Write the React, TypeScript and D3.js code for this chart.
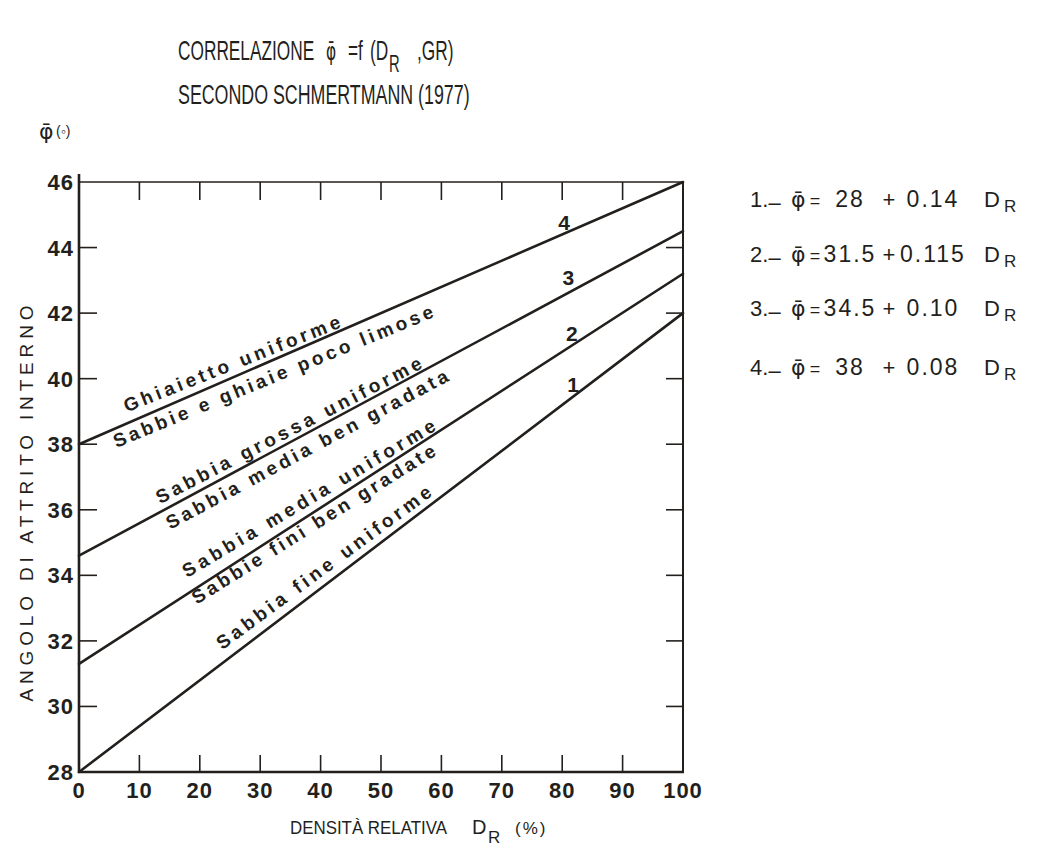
import React from "react";
import * as d3 from "d3";

// ---- data ----
const drTicks = [0, 10, 20, 30, 40, 50, 60, 70, 80, 90, 100];
const phiTicks = [28, 30, 32, 34, 36, 38, 40, 42, 44, 46];
const lineIds = ["1", "2", "3", "4"];
const phiAtDr0 = [28, 31.3, 34.6, 38];
const phiAtDr100 = [42, 43.2, 44.5, 46];
const eqIntercepts = ["28", "31.5", "34.5", "38"];
const eqSlopes = ["0.14", "0.115", "0.10", "0.08"];
const zoneLabels = [
  "Ghiaietto uniforme",
  "Sabbie e ghiaie poco limose",
  "Sabbia grossa uniforme",
  "Sabbia media ben gradata",
  "Sabbia media uniforme",
  "Sabbie fini ben gradate",
  "Sabbia fine uniforme",
];
const zoneLabelLine = [3, 3, 2, 2, 1, 1, 0];

const W = 1041;
const H = 850;
const INK = "#231f1c";
const FONT = "'Liberation Sans', Arial, Helvetica, sans-serif";
const PHI_FONT = "'DejaVu Sans', sans-serif";
const PHI_BAR = "φ\u0304";

export default function App() {
  const x = d3.scaleLinear().domain([0, 100]).range([79, 683]);
  const y = d3.scaleLinear().domain([28, 46]).range([772, 182]);
  const lineVal = (i: number, d: number) =>
    phiAtDr0[i] + ((phiAtDr100[i] - phiAtDr0[i]) * d) / 100;
  const lineGen = d3
    .line<[number, number]>()
    .x((p) => x(p[0]))
    .y((p) => y(p[1]));

  // label placement along lines: start/end DR and vertical pixel offsets
  const placement = [
    { d0: 7.9, d1: 43.5, o0: -11, o1: -3 },
    { d0: 6.2, d1: 58.9, o0: 20, o1: 27 },
    { d0: 13.4, d1: 57, o0: -8, o1: -3 },
    { d0: 15.1, d1: 61.4, o0: 23, o1: 24 },
    { d0: 17.9, d1: 59.3, o0: -16, o1: -3 },
    { d0: 19.5, d1: 59.3, o0: 17, o1: 22 },
    { d0: 23.7, d1: 58.6, o0: -13, o1: -8 },
  ];
  const numPlace = [
    { d: 81.8, o: -5 },
    { d: 81.6, o: -5 },
    { d: 81.0, o: -8 },
    { d: 80.3, o: -4 },
  ];

  const x0 = x(0);
  const x1 = x(100);
  const yTop = y(46);
  const yBot = y(28);

  const eqBase = [207, 262, 316, 375];
  const SX = 0.64;
  const u = (px: number) => (px - 178) / SX; // real x -> unscaled title coords

  return (
    <svg
      width={W}
      height={H}
      viewBox={`0 0 ${W} ${H}`}
      style={{ position: "absolute", left: 0, top: 0, display: "block", background: "#fff" }}
    >
      <rect x={0} y={0} width={W} height={H} fill="#fff" />

      {/* title */}
      <g fill={INK} fontFamily={FONT} fontSize={27}>
        <text transform={`translate(178,60) scale(${SX},1)`}>
          <tspan x={0}>CORRELAZIONE</tspan>
          <tspan x={u(326)} fontFamily={PHI_FONT} fontSize={24}>
            {PHI_BAR}
          </tspan>
          <tspan x={u(348)}>=f</tspan>
          <tspan x={u(370)}>(D</tspan>
          <tspan x={u(389)} dy={12} fontSize={23}>
            R
          </tspan>
          <tspan x={u(417)} dy={-12}>
            ,GR)
          </tspan>
        </text>
        <text transform={`translate(178,104) scale(0.66,1)`}>SECONDO SCHMERTMANN (1977)</text>
      </g>

      {/* y-axis unit label */}
      <text x={39} y={139} fill={INK} fontFamily={PHI_FONT} fontSize={22}>
        {PHI_BAR}
        <tspan x={56} dy={-3} fontFamily={FONT} fontSize={14}>
          (◦)
        </tspan>
      </text>

      {/* frame */}
      <g stroke={INK} fill="none">
        <line x1={x0} x2={x1} y1={yTop} y2={yTop} strokeWidth={1.6} />
        <line x1={x1} x2={x1} y1={yTop} y2={yBot + 1} strokeWidth={2} />
        <line x1={x0} x2={x0} y1={yTop - 8} y2={yBot + 1} strokeWidth={2.6} />
        <line x1={x0 - 1} x2={x1 + 1} y1={yBot} y2={yBot} strokeWidth={2.6} />
      </g>

      {/* ticks */}
      <g stroke={INK} strokeWidth={1.6}>
        {drTicks.slice(1, -1).map((t) => (
          <g key={"xt" + t}>
            <line x1={x(t)} x2={x(t)} y1={yTop} y2={yTop + 18} />
            <line x1={x(t)} x2={x(t)} y1={yBot} y2={yBot - 17} />
          </g>
        ))}
        {phiTicks.slice(1, -1).map((t) => (
          <g key={"yt" + t}>
            <line x1={x0} x2={x0 + 18} y1={y(t)} y2={y(t)} />
            <line x1={x1} x2={x1 - 17} y1={y(t)} y2={y(t)} />
          </g>
        ))}
      </g>

      {/* tick labels */}
      <g fill={INK} fontFamily={FONT} fontWeight="bold" fontSize={22}>
        {drTicks.map((t) => (
          <text key={"xl" + t} x={x(t)} y={yBot + 26} textAnchor="middle" letterSpacing={1}>
            {t}
          </text>
        ))}
        {phiTicks.map((t) => (
          <text key={"yl" + t} x={74} y={y(t) + 8} textAnchor="end" letterSpacing={1}>
            {t}
          </text>
        ))}
      </g>

      {/* axis titles */}
      <g fill={INK} fontFamily={FONT}>
        <text
          transform={`translate(33, ${(305 + 702) / 2}) rotate(-90)`}
          textAnchor="middle"
          fontSize={19}
          textLength={396}
          lengthAdjust="spacing"
        >
          ANGOLO DI ATTRITO INTERNO
        </text>
        <text x={290} y={834} fontSize={19}>
          <tspan textLength={157} lengthAdjust="spacingAndGlyphs">
            DENSITÀ RELATIVA
          </tspan>
          <tspan x={472} fontSize={20}>
            D
          </tspan>
          <tspan x={488} dy={9} fontSize={17}>
            R
          </tspan>
          <tspan x={515} dy={-9} fontSize={17} letterSpacing={2}>
            (%)
          </tspan>
        </text>
      </g>

      {/* correlation lines */}
      <g stroke={INK} strokeWidth={2.6} fill="none" strokeLinecap="round">
        {lineIds.map((id, i) => (
          <path
            key={"ln" + id}
            d={lineGen([
              [0, phiAtDr0[i]],
              [100, phiAtDr100[i]],
            ]) as string}
          />
        ))}
      </g>

      {/* line numbers */}
      <g fill={INK} fontFamily={FONT} fontWeight="bold" fontSize={21}>
        {lineIds.map((id, i) => (
          <text key={"num" + id} x={x(numPlace[i].d)} y={y(lineVal(i, numPlace[i].d)) + numPlace[i].o} textAnchor="middle">
            {id}
          </text>
        ))}
      </g>

      {/* zone labels */}
      <g fill={INK} fontFamily={FONT} fontSize={19} fontWeight="bold">
        {zoneLabels.map((lab, k) => {
          const p = placement[k];
          const li = zoneLabelLine[k];
          const ax = x(p.d0);
          const ay = y(lineVal(li, p.d0)) + p.o0;
          const bx = x(p.d1);
          const by = y(lineVal(li, p.d1)) + p.o1;
          const ang = (Math.atan2(by - ay, bx - ax) * 180) / Math.PI;
          const len = Math.hypot(bx - ax, by - ay);
          return (
            <text key={"zl" + k} transform={`translate(${ax},${ay}) rotate(${ang})`} textLength={len} lengthAdjust="spacing">
              {lab}
            </text>
          );
        })}
      </g>

      {/* equations */}
      <g fill={INK} fontFamily={FONT}>
        {lineIds.map((id, i) => {
          const b = eqBase[i];
          return (
            <text key={"eq" + id} x={750} y={b} fontSize={22}>
              {id}.<tspan dy={3}>–</tspan>
              <tspan x={791} dy={-3} fontFamily={PHI_FONT}>
                {PHI_BAR}
              </tspan>
              <tspan x={815} fontSize={18} textAnchor="middle">
                =
              </tspan>
              <tspan x={850} fontSize={23} textAnchor="middle" letterSpacing={2}>
                {eqIntercepts[i]}
              </tspan>
              <tspan x={889} textAnchor="middle">
                +
              </tspan>
              <tspan x={933} fontSize={23} textAnchor="middle" letterSpacing={2}>
                {eqSlopes[i]}
              </tspan>
              <tspan x={984}>D</tspan>
              <tspan x={1004} dy={5} fontSize={17}>
                R
              </tspan>
            </text>
          );
        })}
      </g>
    </svg>
  );
}
